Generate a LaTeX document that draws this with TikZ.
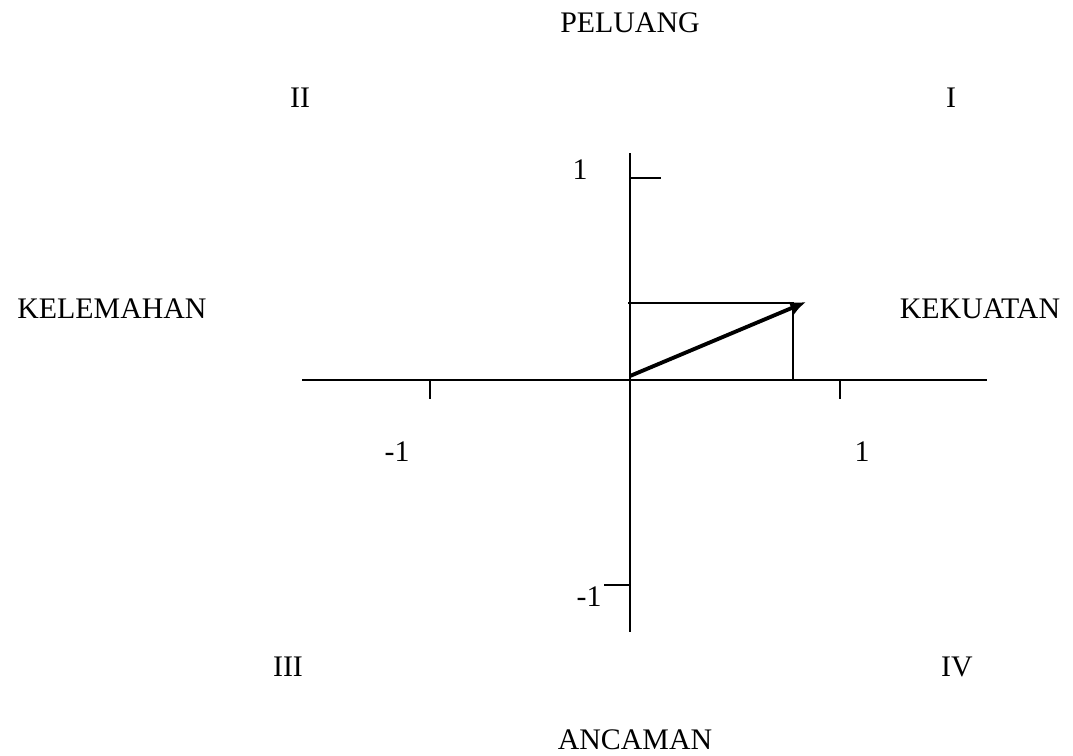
\documentclass[tikz,border=0pt]{standalone}
\usepackage{fontspec}
\setmainfont{Liberation Serif}
\usepackage{tikz}
\usetikzlibrary{arrows.meta, positioning, calc}

\begin{document}
\begin{tikzpicture}[x=0.02cm, y=-0.02cm,
    lbl/.style={font=\fontsize{17}{20}\selectfont, inner sep=0pt},
    axis/.style={draw=black, line width=1.5pt},
    tick/.style={draw=black, line width=1.5pt},
    vec/.style={draw=black, line width=2.2pt, -{Latex[length=9pt, width=8pt]}}
]
    \useasboundingbox (0,0) rectangle (1073,755);

    % axes
    \coordinate (xl) at (302,380);
    \coordinate (xr) at (987,380);
    \coordinate (yt) at (630,153);
    \coordinate (yb) at (630,632);
    \path [axis] (xl) -- (xr);
    \path [axis] (yt) -- (yb);

    % ticks
    \coordinate (ty1) at (630,178);
    \coordinate (ty1e) at (661,178);
    \coordinate (tym) at (630,585);
    \coordinate (tyme) at (604,585);
    \coordinate (txm) at (430,380);
    \coordinate (txme) at (430,399);
    \coordinate (tx1) at (840,380);
    \coordinate (tx1e) at (840,399);
    \path [tick] (ty1) -- (ty1e);
    \path [tick] (tym) -- (tyme);
    \path [tick] (txm) -- (txme);
    \path [tick] (tx1) -- (tx1e);

    % position point
    \coordinate (o) at (630,376);
    \coordinate (p) at (806,302);
    \coordinate (py) at (628,303);
    \coordinate (px) at (793,380);
    \coordinate (pc) at (793,303);
    \path [tick] (py) -- (pc) -- (px);
    \path [vec] (o) -- (p);

    % labels
    \node [lbl] (peluang) at (630,23) {PELUANG};
    \node [lbl] (ancaman) at (635,740) {ANCAMAN};
    \node [lbl] (kelemahan) at (112,309) {KELEMAHAN};
    \node [lbl] (kekuatan) at (980,309) {KEKUATAN};
    \node [lbl] (q1) at (951,98) {I};
    \node [lbl] (q2) at (300,98) {II};
    \node [lbl] (q3) at (288,667) {III};
    \node [lbl] (q4) at (957,667) {IV};
    \node [lbl] (yone) at (580,170) {1};
    \node [lbl] (ymone) at (589,597) {-1};
    \node [lbl] (xmone) at (397,452) {-1};
    \node [lbl] (xone) at (862,452) {1};
\end{tikzpicture}
\end{document}
